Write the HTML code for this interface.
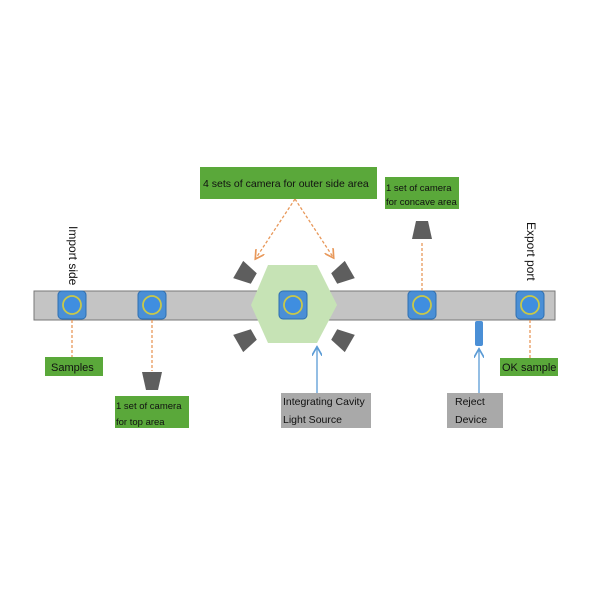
<!DOCTYPE html>
<html><head><style>body{margin:0;background:#fff}</style></head><body>
<svg width="600" height="600" xmlns="http://www.w3.org/2000/svg" font-family="Liberation Sans, sans-serif">
<defs>
<marker id="ao" markerWidth="8" markerHeight="8" refX="6" refY="4" orient="auto"><path d="M0,0 L7,4 L0,8" fill="none" stroke="#e8985a" stroke-width="1.3"/></marker>
<marker id="ab" markerWidth="8" markerHeight="8" refX="6" refY="4" orient="auto"><path d="M0,0 L7,4 L0,8" fill="none" stroke="#5b9bd5" stroke-width="1.3"/></marker>
<g id="sq"><rect x="-14" y="-14" width="28" height="28" rx="4" fill="#4a8fd6" stroke="#2f6fb0" stroke-width="1"/><circle r="9" fill="#3f8ee0" stroke="#c8c84a" stroke-width="1.8"/></g>
<polygon id="cam" points="-10,-9 10,-9 6,9 -6,9" fill="#5e5e5e"/>
</defs>
<rect x="34" y="291" width="521" height="29" fill="#c4c4c4" stroke="#777" stroke-width="1"/>
<polygon points="251,305 268,265 317,265 337,305 317,343 268,343" fill="#c6e3b5"/>
<use href="#sq" x="72" y="305"/><use href="#sq" x="152" y="305"/><use href="#sq" x="293" y="305"/><use href="#sq" x="422" y="305"/><use href="#sq" x="530" y="305"/>
<use href="#cam" transform="translate(152,381)"/>
<use href="#cam" transform="translate(422,230) rotate(180)"/>
<use href="#cam" transform="translate(246,274) rotate(-60)"/>
<use href="#cam" transform="translate(342,274) rotate(60)"/>
<use href="#cam" transform="translate(246,339) rotate(-120)"/>
<use href="#cam" transform="translate(342,339) rotate(120)"/>
<rect x="475" y="321" width="8" height="25" rx="2" fill="#4a8fd6"/>
<g stroke="#e8985a" stroke-width="1.3" stroke-dasharray="3,2" fill="none">
<line x1="72" y1="320" x2="72" y2="357"/>
<line x1="152" y1="320" x2="152" y2="371"/>
<line x1="530" y1="320" x2="530" y2="358"/>
<line x1="422" y1="291" x2="422" y2="241"/>
<line x1="295" y1="199" x2="256" y2="258" marker-end="url(#ao)"/>
<line x1="295" y1="199" x2="333" y2="257" marker-end="url(#ao)"/>
</g>
<g stroke="#5b9bd5" stroke-width="1.3" fill="none">
<line x1="317" y1="393" x2="317" y2="348" marker-end="url(#ab)"/>
<line x1="479" y1="393" x2="479" y2="350" marker-end="url(#ab)"/>
</g>
<g font-size="10.5" fill="#111">
<rect x="200" y="167" width="177" height="32" fill="#5aa83a"/>
<text x="203" y="187">4 sets of camera for outer side area</text>
<rect x="385" y="177" width="74" height="32" fill="#5aa83a"/>
<text x="386" y="191" font-size="9.5">1 set of camera</text><text x="386" y="205" font-size="9.5">for concave area</text>
<rect x="45" y="357" width="58" height="19" fill="#5aa83a"/>
<text x="51" y="371" font-size="11">Samples</text>
<rect x="115" y="396" width="74" height="32" fill="#5aa83a"/>
<text x="116" y="409" font-size="9.5">1 set of camera</text><text x="116" y="425" font-size="9.5">for top area</text>
<rect x="500" y="358" width="58" height="18" fill="#5aa83a"/>
<text x="502" y="371" font-size="11">OK sample</text>
<rect x="281" y="393" width="90" height="35" fill="#a9a9a9"/>
<text x="283" y="405">Integrating Cavity</text><text x="283" y="423">Light Source</text>
<rect x="447" y="393" width="56" height="35" fill="#a9a9a9"/>
<text x="455" y="405">Reject</text><text x="455" y="423">Device</text>
<text transform="translate(69,226) rotate(90)" font-size="12">Import side</text>
<text transform="translate(527,222) rotate(90)" font-size="12">Export port</text>
</g>
</svg>
</body></html>
